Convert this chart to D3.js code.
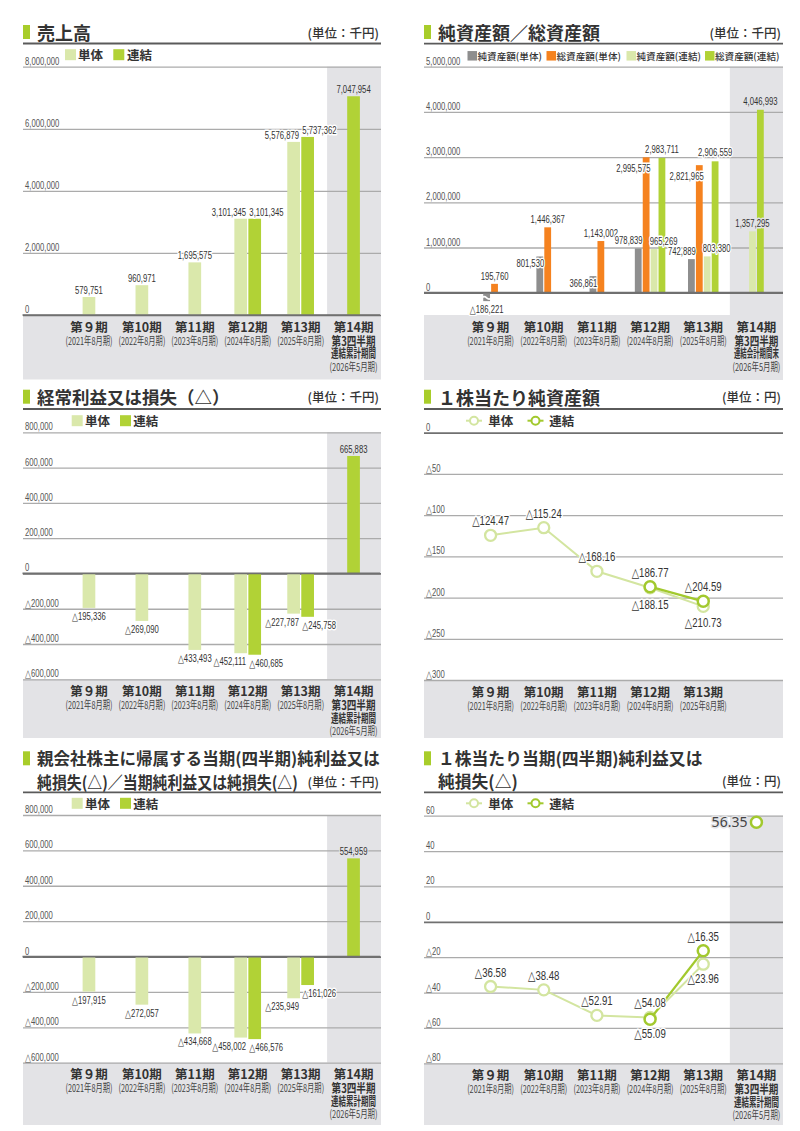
<!DOCTYPE html>
<html>
<head>
<meta charset="utf-8">
<script src="https://cdn.jsdelivr.net/npm/d3@7"></script>
<style>
  body { margin: 0; background: #fff; }
  svg { display: block; }
</style>
</head>
<body>
<svg id="main-svg" width="800" height="1131"></svg>
<script>
// categories and axis labels
const categories = ["第９期", "第10期", "第11期", "第12期", "第13期", "第14期"];
const periodEnds = ["(2021年8月期)", "(2022年8月期)", "(2023年8月期)", "(2024年8月期)", "(2025年8月期)", "(2026年5月期)"];
const q3Lines = ["第3四半期", "連結累計期間"];
const q3LinesBS = ["第3四半期", "連結会計期間末"];

// 売上高 (千円)
const salesTantai = [579751, 960971, 1695575, 3101345, 5576879, null];
const salesRenketsu = [null, null, null, 3101345, 5737362, 7047954];
const salesTicks = [0, 2000000, 4000000, 6000000, 8000000];

// 純資産額 / 総資産額 (千円)
const netAssetsTantai = [-186221, 801530, 366861, 978839, 742889, null];
const totalAssetsTantai = [195760, 1446367, 1143002, 2995575, 2821965, null];
const netAssetsRenketsu = [null, null, null, 965269, 803380, 1357295];
const totalAssetsRenketsu = [null, null, null, 2983711, 2906559, 4046993];
const assetTicks = [0, 1000000, 2000000, 3000000, 4000000, 5000000];
const assetLegend = ["純資産額(単体)", "総資産額(単体)", "純資産額(連結)", "総資産額(連結)"];

// 経常利益又は損失 (千円)
const ordTantai = [-195336, -269090, -433493, -452111, -227787, null];
const ordRenketsu = [null, null, null, -460685, -245758, 665883];
const profitTicks = [-600000, -400000, -200000, 0, 200000, 400000, 600000, 800000];

// 1株当たり純資産額 (円)
const bpsTantai = [-124.47, -115.24, -168.16, -188.15, -210.73];
const bpsRenketsu = [null, null, null, -186.77, -204.59];
const bpsTicks = [0, -50, -100, -150, -200, -250, -300];

// 親会社株主に帰属する当期純利益又は純損失 (千円)
const niTantai = [-197915, -272057, -434668, -458002, -235949, null];
const niRenketsu = [null, null, null, -466576, -161026, 554959];

// 1株当たり当期純利益又は純損失 (円)
const epsTantai = [-36.58, -38.48, -52.91, -54.08, -23.96, null];
const epsRenketsu = [null, null, null, -55.09, -16.35, 56.35];
const epsTicks = [60, 40, 20, 0, -20, -40, -60, -80];

// colours and fonts
const C_MARK = "#a8cd2a";
const C_LIGHT = "#dae8ab";
const C_GREEN = "#b1d236";
const C_GRAY = "#8e8e8e";
const C_ORANGE = "#f5821f";
const C_BAND = "#e3e3e6";
const C_GRID = "#ababab";
const C_ZERO = "#707070";
const C_TEXT = "#333";
const C_LINE_LIGHT = "#d3e5a0";
const C_LINE_GREEN = "#a2c92e";
const JP = "'Noto Sans CJK JP', 'Noto Sans', sans-serif";
const NUM = "'Liberation Sans', Arial, 'DejaVu Sans', sans-serif";
const SQ = 0.7; // horizontal squeeze for the condensed number face

const LEFT = { x0: 23, x1: 381, range: [62.5, 380] };
const RIGHT = { x0: 424, x1: 783, range: [464, 783] };

const svg = d3.select("#main-svg");

const fmtInt = v => (v < 0 ? "△" : "") + d3.format(",")(Math.abs(v));
const fmtDec = v => (v < 0 ? "△" : "") + d3.format(".2f")(Math.abs(v));
const fmtTick = v => (v < 0 ? "△" : "") + Math.abs(v);
const fmtTickInt = v => (v < 0 ? "△" : "") + d3.format(",")(Math.abs(v));

function makeX(side) {
    const x = d3.scaleBand().domain(categories).range(side.range).padding(0);
    x.center = i => x(categories[i]) + x.bandwidth() / 2;
    return x;
}

function halo(sel, color) {
    return sel.attr("stroke", color).attr("stroke-width", 3)
        .attr("stroke-linejoin", "round").attr("paint-order", "stroke");
}

// squeeze a text horizontally so it takes the given width
function fit(sel, w) {
    sel.each(function () {
        const t = d3.select(this);
        const x = +t.attr("x"), y = +t.attr("y");
        const s = Math.min(1, w / this.getComputedTextLength());
        t.attr("x", 0).attr("y", 0).attr("transform", `translate(${x},${y}) scale(${s},1)`);
    });
    return sel;
}

// title, unit, rule, bands, grid, category labels
function frame(o) {
    const g = svg.append("g");
    const s = o.side;
    g.append("rect").attr("x", s.x0).attr("y", o.titleY[0] - 7)
        .attr("width", 7).attr("height", 14).attr("fill", C_MARK);
    o.title.forEach((t, i) => {
        const tt = g.append("text").attr("x", s.x0 + 14).attr("y", o.titleY[i])
            .attr("dominant-baseline", "central")
            .attr("font-family", JP).attr("font-weight", 700)
            .attr("font-size", o.titleSize).attr("fill", C_TEXT).text(t);
        if (o.titleLen) fit(tt, o.titleLen[i]);
    });
    g.append("text").attr("x", s.x1 - 2).attr("y", o.unitY)
        .attr("dominant-baseline", "central").attr("text-anchor", "end")
        .attr("font-family", JP).attr("font-weight", 500)
        .attr("font-size", 12.5).attr("fill", C_TEXT).text(o.unit);
    g.append("line").attr("x1", s.x0).attr("x2", s.x1)
        .attr("y1", o.ruleY).attr("y2", o.ruleY)
        .attr("stroke", "#5a5a5a").attr("stroke-width", 1.8);

    // grey band under the plot and grey column for 第14期
    g.append("rect").attr("x", s.x0).attr("y", o.bottom)
        .attr("width", s.x1 - s.x0).attr("height", o.bandBottom - o.bottom)
        .attr("fill", C_BAND);
    if (o.col14) {
        const cx0 = o.x(categories[5]);
        g.append("rect").attr("x", cx0).attr("y", o.top)
            .attr("width", s.x1 - cx0).attr("height", o.bottom - o.top)
            .attr("fill", C_BAND);
    }

    // grid lines via axis
    const ax = g.append("g").attr("transform", `translate(${s.x0},0)`)
        .call(d3.axisRight(o.y).tickValues(o.ticks).tickSize(s.x1 - s.x0).tickFormat(o.tickFmt));
    ax.select(".domain").remove();
    ax.selectAll(".tick line")
        .attr("stroke", d => d === 0 ? C_ZERO : C_GRID)
        .attr("stroke-width", d => d === 0 ? 1.7 : 1.3);
    ax.selectAll(".tick text")
        .attr("x", 0).attr("dy", 0).attr("text-anchor", "start")
        .attr("transform", `translate(2,-2.5) scale(${SQ},1)`)
        .attr("font-family", NUM).attr("font-size", 11).attr("fill", "#555");

    // category labels
    const n = o.count;
    const cg = g.append("g").attr("font-family", JP).attr("fill", C_TEXT)
        .attr("text-anchor", "middle").attr("dominant-baseline", "central");
    cg.selectAll("text.cat").data(categories.slice(0, n)).join("text")
        .attr("class", "cat")
        .attr("x", (d, i) => o.x.center(i)).attr("y", o.bottom + 11)
        .attr("font-weight", 700).attr("font-size", 12.5).text(d => d);
    fit(cg.selectAll("text.sub").data(periodEnds.slice(0, Math.min(n, 5))).join("text")
        .attr("class", "sub")
        .attr("x", (d, i) => o.x.center(i)).attr("y", o.bottom + 25)
        .attr("font-size", 11).attr("fill", "#444").text(d => d), 47);
    if (n === 6) {
        const cx = o.x.center(5);
        const q = o.q3 || q3Lines;
        fit(cg.append("text").attr("x", cx).attr("y", o.bottom + 25)
            .attr("font-weight", 700).attr("font-size", 12.5).text(q[0]), 44);
        fit(cg.append("text").attr("x", cx).attr("y", o.bottom + 38)
            .attr("font-weight", 700).attr("font-size", 12).text(q[1]), 45);
        fit(cg.append("text").attr("x", cx).attr("y", o.bottom + 51)
            .attr("font-size", 11).attr("fill", "#444").text(periodEnds[5]), 48);
    }
    return g;
}

function squareLegend(g, items, xs, textXs, cy, size, fontSize) {
    const lg = g.append("g");
    items.forEach((it, i) => {
        lg.append("rect").attr("x", xs[i]).attr("y", cy - size / 2)
            .attr("width", size).attr("height", size).attr("fill", it.color);
        lg.append("text").attr("x", textXs[i]).attr("y", cy)
            .attr("dominant-baseline", "central")
            .attr("font-family", JP).attr("font-weight", fontSize > 11 ? 700 : 500)
            .attr("font-size", fontSize).attr("fill", C_TEXT).text(it.label);
    });
}

function lineLegend(g, items, cxs, textXs, cy) {
    const lg = g.append("g");
    items.forEach((it, i) => {
        lg.append("line").attr("x1", cxs[i] - 8).attr("x2", cxs[i] + 8)
            .attr("y1", cy).attr("y2", cy).attr("stroke", it.color).attr("stroke-width", 2);
        lg.append("circle").attr("cx", cxs[i]).attr("cy", cy).attr("r", 4)
            .attr("fill", "#fff").attr("stroke", it.color).attr("stroke-width", 2);
        lg.append("text").attr("x", textXs[i]).attr("y", cy)
            .attr("dominant-baseline", "central")
            .attr("font-family", JP).attr("font-weight", 700)
            .attr("font-size", 12.5).attr("fill", C_TEXT).text(it.label);
    });
}

// grouped bars: only the series present in a category are drawn, centred on it
function bars(g, x, y, series, barW, gap, labelPos) {
    const flat = [];
    categories.forEach((c, i) => {
        const present = series.filter(s => s.values[i] != null);
        const total = present.length * barW + (present.length - 1) * gap;
        const start = x.center(i) - total / 2;
        present.forEach((s, j) => {
            flat.push({ i, v: s.values[i], k: series.indexOf(s), color: s.color,
                bx: start + j * (barW + gap), j, n: present.length });
        });
    });
    g.append("g").selectAll("rect").data(flat).join("rect")
        .attr("x", d => d.bx).attr("width", barW)
        .attr("y", d => Math.min(y(d.v), y(0)))
        .attr("height", d => Math.abs(y(d.v) - y(0)))
        .attr("fill", d => d.color);
    g.append("line").attr("x1", x.range()[0] - 40).attr("x2", x.range()[1])
        .attr("y1", y(0)).attr("y2", y(0)).attr("stroke", C_ZERO).attr("stroke-width", 1.7);
    flat.forEach(d => { Object.assign(d, labelPos(d, y, barW)); });
    halo(g.append("g").attr("font-family", NUM).attr("font-size", 11).attr("fill", C_TEXT)
        .selectAll("text").data(flat).join("text")
        .attr("transform", d => `translate(${d.lx},${d.ly}) scale(${SQ},1)`)
        .attr("text-anchor", d => d.anchor)
        .text(d => fmtInt(d.v)), "#fff")
        .attr("stroke", d => d.i === 5 ? C_BAND : "#fff");
    return flat;
}

// label rule for 単体 / 連結 pairs
function pairLabel(d, y, barW) {
    const ly = d.v >= 0 ? y(d.v) - 3 : y(d.v) + 12;
    if (d.n === 1) return { lx: d.bx + barW / 2, ly, anchor: "middle" };
    return d.j === 0 ? { lx: d.bx + barW - 1, ly, anchor: "end" }
                     : { lx: d.bx + 1, ly, anchor: "start" };
}

// label rule for the four asset series
function assetLabel(d, y, barW) {
    const top = y(d.v);
    const mid = d.bx + barW / 2;
    if (d.v < 0) return { lx: mid, ly: y(d.v) + 12, anchor: "middle" };
    if (d.k === 0) return { lx: d.bx + barW + 1, ly: d.n > 2 ? top - 4 : top + 11, anchor: "end" };
    if (d.k === 1) return d.n > 2 ? { lx: d.bx + barW + 1, ly: top + 15, anchor: "end" }
                                  : { lx: mid, ly: top - 4, anchor: "middle" };
    if (d.k === 2) return d.n > 2 ? { lx: d.bx - 1, ly: top - 4, anchor: "start" }
                                  : { lx: mid, ly: top - 4, anchor: "middle" };
    return { lx: mid, ly: top - 5, anchor: "middle" };
}

// line series: lines join 第9期-第13期, 第14期 stands alone
function lineSeries(g, x, y, series, belowOffset, fmt) {
    series.forEach(s => {
        const pts = s.values.map((v, i) => ({ v, i }));
        const line = d3.line().defined(d => d.v != null && d.i < 5)
            .x(d => x.center(d.i)).y(d => y(d.v));
        g.append("path").datum(pts.filter(d => d.i < 5)).attr("d", line)
            .attr("fill", "none").attr("stroke", s.color).attr("stroke-width", s.width);
        g.append("g").selectAll("circle").data(pts.filter(d => d.v != null)).join("circle")
            .attr("cx", d => x.center(d.i)).attr("cy", d => y(d.v)).attr("r", 5.5)
            .attr("fill", "#fff").attr("stroke", s.color).attr("stroke-width", s.width + 0.3);
    });
    const labels = [];
    series.forEach((s, k) => {
        const other = series[1 - k];
        s.values.forEach((v, i) => {
            if (v == null) return;
            const ov = other.values[i];
            if (i === 5) {
                labels.push({ v, lx: x.center(i) - 9, ly: y(v) + 5, anchor: "end", big: true });
            } else if (ov != null && v < ov) {
                labels.push({ v, lx: x.center(i), ly: y(v) + belowOffset, anchor: "middle" });
            } else {
                labels.push({ v, lx: x.center(i), ly: y(v) - 10, anchor: "middle" });
            }
        });
    });
    halo(g.append("g").attr("fill", C_TEXT).selectAll("text").data(labels).join("text")
        .attr("transform", d => `translate(${d.lx},${d.ly}) scale(${d.big ? 1 : 0.74},1)`)
        .attr("text-anchor", d => d.anchor)
        .attr("font-family", d => d.big ? "'Noto Sans', sans-serif" : NUM)
        .attr("font-size", d => d.big ? 14 : 13)
        .attr("fill", d => d.big ? "#444" : C_TEXT)
        .text(d => d.big ? d3.format(".2f")(d.v) : fmt(d.v)), "#fff")
        .attr("stroke", d => d.big ? C_BAND : "#fff");
}

const pairLegend = [{ label: "単体", color: C_LIGHT }, { label: "連結", color: C_GREEN }];
const lineLegendItems = [{ label: "単体", color: C_LINE_LIGHT }, { label: "連結", color: C_LINE_GREEN }];

// ---- 売上高
{
    const x = makeX(LEFT);
    const y = d3.scaleLinear().domain([0, 8000000]).range([315, 66.7]);
    const g = frame({ side: LEFT, title: ["売上高"], titleY: [32], titleSize: 18,
        unit: "(単位：千円)", unitY: 32, ruleY: 43.5, x, y, ticks: salesTicks,
        tickFmt: fmtTickInt, top: 66.7, bottom: 315, bandBottom: 379.5, col14: true, count: 6 });
    squareLegend(g, pairLegend, [65, 113.3], [78, 127], 54.7, 11, 12.5);
    bars(g, x, y, [{ values: salesTantai, color: C_LIGHT }, { values: salesRenketsu, color: C_GREEN }],
        12.7, 1.3, pairLabel);
}

// ---- 純資産額／総資産額
{
    const x = makeX(RIGHT);
    const y = d3.scaleLinear().domain([-500000, 5000000]).range([315.3, 66.7]);
    const g = frame({ side: RIGHT, title: ["純資産額／総資産額"], titleY: [32], titleSize: 18,
        unit: "(単位：千円)", unitY: 32, ruleY: 43.7, x, y, ticks: assetTicks,
        tickFmt: fmtTickInt, top: 66.7, bottom: 315, bandBottom: 380, col14: true, count: 6, q3: q3LinesBS });
    const cols = [C_GRAY, C_ORANGE, C_LIGHT, C_GREEN];
    squareLegend(g, assetLegend.map((l, i) => ({ label: l, color: cols[i] })),
        [467.5, 546.5, 626.5, 705], [477.5, 556.5, 636.5, 715], 55.8, 9.5, 9.6);
    const flat = bars(g, x, y, [
        { values: netAssetsTantai, color: C_GRAY },
        { values: totalAssetsTantai, color: C_ORANGE },
        { values: netAssetsRenketsu, color: C_LIGHT },
        { values: totalAssetsRenketsu, color: C_GREEN }], 6.8, 1.1, assetLabel);
    // break mark on the negative bar
    flat.filter(d => d.v < 0).forEach(d => {
        const ym = (y(0) + y(d.v)) / 2 + 1;
        const w = 6.8 + 3;
        g.append("path")
            .attr("d", `M${d.bx - 1.5},${ym} q${w / 4},-2.5 ${w / 2},0 t${w / 2},0`)
            .attr("fill", "none").attr("stroke", "#fff").attr("stroke-width", 1.6);
    });
}

// ---- 経常利益又は損失
{
    const x = makeX(LEFT);
    const y = d3.scaleLinear().domain([-600000, 800000]).range([679.3, 432.3]);
    const g = frame({ side: LEFT, title: ["経常利益又は損失（△）"], titleY: [396.7], titleSize: 17.5,
        unit: "(単位：千円)", unitY: 396.7, ruleY: 409, x, y, ticks: profitTicks,
        tickFmt: fmtTickInt, top: 432.3, bottom: 679.3, bandBottom: 738, col14: true, count: 6 });
    squareLegend(g, pairLegend, [71.7, 120], [85, 133.3], 420.7, 11, 12.5);
    bars(g, x, y, [{ values: ordTantai, color: C_LIGHT }, { values: ordRenketsu, color: C_GREEN }],
        12.7, 1.3, pairLabel);
}

// ---- 1株当たり純資産額
{
    const x = makeX(RIGHT);
    const y = d3.scaleLinear().domain([-300, 0]).range([680, 432.7]);
    const g = frame({ side: RIGHT, title: ["１株当たり純資産額"], titleY: [396.7], titleSize: 18,
        unit: "(単位：円)", unitY: 396.7, ruleY: 409, x, y, ticks: bpsTicks,
        tickFmt: fmtTick, top: 432.7, bottom: 680, bandBottom: 738, col14: false, count: 5 });
    lineLegend(g, lineLegendItems, [474, 535.5], [488.3, 549.3], 420.7);
    lineSeries(g, x, y, [{ values: bpsTantai, color: C_LINE_LIGHT, width: 2 },
        { values: bpsRenketsu, color: C_LINE_GREEN, width: 2.2 }], 21, fmtDec);
}

// ---- 親会社株主に帰属する当期純利益又は純損失
{
    const x = makeX(LEFT);
    const y = d3.scaleLinear().domain([-600000, 800000]).range([1062.7, 815]);
    const g = frame({ side: LEFT,
        title: ["親会社株主に帰属する当期(四半期)純利益又は", "純損失(△)／当期純利益又は純損失(△)"],
        titleY: [758.3, 781.7], titleSize: 16.6, titleLen: [343, 261],
        unit: "(単位：千円)", unitY: 781.7, ruleY: 792.3, x, y, ticks: profitTicks,
        tickFmt: fmtTickInt, top: 815, bottom: 1062.7, bandBottom: 1125, col14: true, count: 6 });
    squareLegend(g, pairLegend, [71.7, 120], [85, 133.3], 803.3, 11, 12.5);
    bars(g, x, y, [{ values: niTantai, color: C_LIGHT }, { values: niRenketsu, color: C_GREEN }],
        12.7, 1.3, pairLabel);
}

// ---- 1株当たり当期純利益又は純損失
{
    const x = makeX(RIGHT);
    const y = d3.scaleLinear().domain([-80, 60]).range([1063.3, 815.7]);
    const g = frame({ side: RIGHT, title: ["１株当たり当期(四半期)純利益又は", "純損失(△)"],
        titleY: [758.3, 780.7], titleSize: 16.8, titleLen: [266, 81],
        unit: "(単位：円)", unitY: 780.7, ruleY: 792.3, x, y, ticks: epsTicks,
        tickFmt: fmtTick, top: 815.7, bottom: 1063.3, bandBottom: 1125, col14: true, count: 6 });
    lineLegend(g, lineLegendItems, [474, 535.5], [488.3, 549.3], 803.3);
    lineSeries(g, x, y, [{ values: epsTantai, color: C_LINE_LIGHT, width: 2 },
        { values: epsRenketsu, color: C_LINE_GREEN, width: 2.2 }], 19, fmtDec);
}
</script>
</body>
</html>
